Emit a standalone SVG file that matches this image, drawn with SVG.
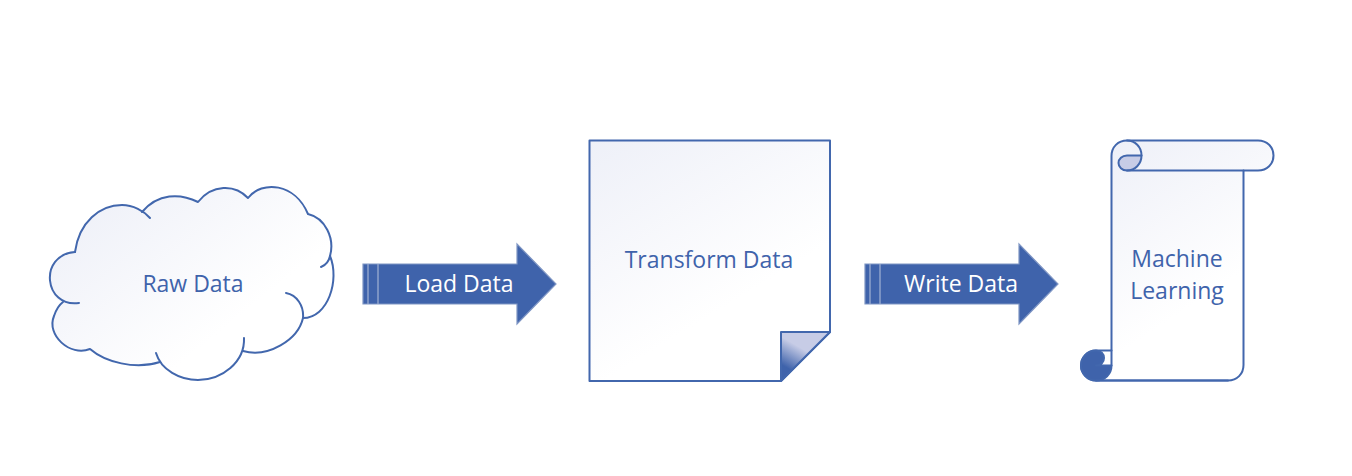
<svg xmlns="http://www.w3.org/2000/svg" width="1352" height="476" viewBox="0 0 1352 476">
<style>
.o{fill:none;stroke:#4267ad;stroke-width:2;stroke-linecap:round;stroke-linejoin:round}
.f{stroke:#4267ad;stroke-width:2;stroke-linejoin:round}
.a{fill:#3f63ab;stroke:#7f96c4;stroke-width:1.200}
.s{fill:none;stroke:#8fa3cc;stroke-width:1.500}
.t{font-family:"Open Sans","Noto Sans",sans-serif;font-size:23px;fill:#3f63ab;text-anchor:middle}
.w{fill:#fff}
</style>
<defs>
<linearGradient id="g1" gradientUnits="userSpaceOnUse" x1="90" y1="190" x2="210" y2="340"><stop offset="0" stop-color="#eef0f8"/><stop offset="1" stop-color="#fff"/></linearGradient>
<linearGradient id="g2" gradientUnits="userSpaceOnUse" x1="610" y1="130" x2="720" y2="310"><stop offset="0" stop-color="#eef0f8"/><stop offset="1" stop-color="#fff"/></linearGradient>
<linearGradient id="g3" gradientUnits="userSpaceOnUse" x1="1115" y1="140" x2="1215" y2="290"><stop offset="0" stop-color="#eef0f8"/><stop offset="1" stop-color="#fff"/></linearGradient>
<linearGradient id="g4" gradientUnits="userSpaceOnUse" x1="810" y1="338" x2="788" y2="376"><stop offset="0" stop-color="#c7cce6"/><stop offset="0.3" stop-color="#c7cce6"/><stop offset="0.85" stop-color="#3f63ab"/><stop offset="1" stop-color="#3f63ab"/></linearGradient>
</defs>
<g id="raw-data">
<path fill="url(#g1)" d="M75 252C79 222 100 205 122 205C130 205 137 208 142 212C158 193 180 193 198 202C212 184 235 184 248 198C262 180 295 183 308 214C325 218 335 238 330 256C340 280 328 318 303 318C298 340 268 358 243 351C232 376 180 392 160 362C135 370 105 362 90 349C70 357 46 335 54 316C56 310 59 305 63 302C44 297 44 255 75 252Z"/>
<path class="o" d="M75 252C79 222 100 205 122 205C133 205 144 211 150 218"/>
<path class="o" d="M142 212C158 193 180 193 198 202C212 184 235 184 248 198C262 180 295 183 308 214C325 218 335 238 330 256C329 261 326 265 321 267"/>
<path class="o" d="M330 256C340 280 328 318 303 318"/>
<path class="o" d="M286 293C297 295 304 306 303 318C298 340 268 358 243 351"/>
<path class="o" d="M244 338C245 362 222 380 198 380C180 380 161 370 156 353"/>
<path class="o" d="M160 362C135 370 105 362 90 349C70 357 46 335 54 316C56 310 59 305 63 302"/>
<path class="o" d="M79 303C44 308 38 255 75 252"/>
<text class="t" x="193" y="291.500">Raw Data</text>
</g>
<g id="load-data">
<path class="a" d="M363 264H517V244L556 284L517 324V304H363Z"/>
<path class="s" d="M368 264V304M378 264V304"/>
<text class="t w" x="459" y="291.500" style="fill:#fff">Load Data</text>
</g>
<g id="transform-data">
<path fill="url(#g2)" class="f" d="M589.500 140.500H830V332L781 381H589.500Z"/>
<path fill="url(#g4)" class="f" d="M781 332H830L781 381Z"/>
<text class="t" x="709" y="267.500">Transform Data</text>
</g>
<g id="write-data">
<path class="a" d="M865 264H1019V244L1058 284L1019 324V304H865Z"/>
<path class="s" d="M870 264V304M880 264V304"/>
<text class="t" x="961" y="291.500" style="fill:#fff">Write Data</text>
</g>
<g id="machine-learning">
<path fill="url(#g3)" class="f" d="M1111.500 156C1111.500 147 1118 140.500 1127 140.500H1258C1267 140.500 1273.500 147 1273.500 155.500C1273.500 164 1267 170.500 1258 170.500H1243.500V365C1243.500 374 1237 380.500 1228 380.500H1096C1087 380.500 1081 373 1081 365.500C1081 358 1087 350.500 1096 350.500H1111.500Z"/>
<path fill="#c7cce6" class="f" d="M1127 155.500H1141.500C1141.500 164 1135 170.500 1127 170.500C1122 170.500 1118.500 167 1118.500 163C1118.500 159 1122 155.500 1127 155.500Z"/>
<path class="o" d="M1127 140.500C1135 140.500 1141.500 147 1141.500 155.500M1127 170.500H1243.500"/>
<path fill="#3f63ab" class="f" d="M1096 350.500C1087 350.500 1081 358 1081 365.500C1081 373 1087 380.500 1096 380.500C1105 380.500 1111.500 374 1111.500 365.500H1096C1101 365.500 1104 362 1104 358C1104 354 1101 350.500 1096 350.500Z"/>
<path class="o" d="M1096 380.500H1228M1111.500 350.500V365.500"/>
<text class="t" x="1177" y="266.500">Machine</text>
<text class="t" x="1177" y="298.500">Learning</text>
</g>
<g id="connectors"/>
</svg>
